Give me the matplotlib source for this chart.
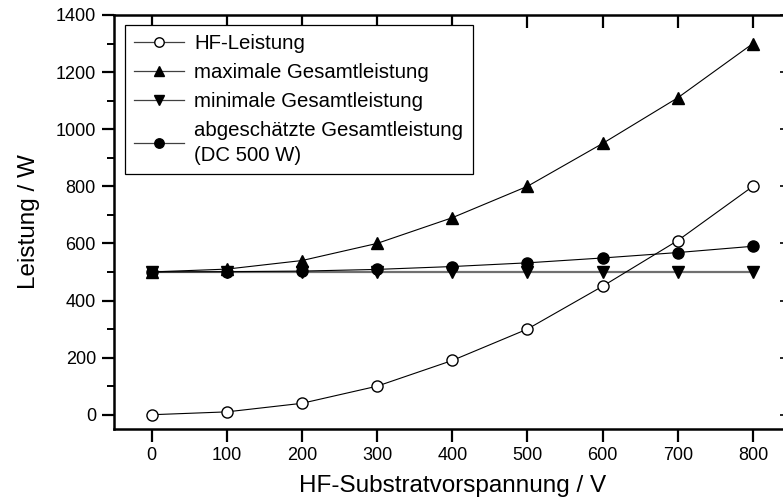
import matplotlib
matplotlib.use("Agg")
import matplotlib.pyplot as plt
from matplotlib.ticker import MultipleLocator

plt.rcParams['font.family'] = ['Liberation Sans', 'DejaVu Sans']

# data
spannung = [0, 100, 200, 300, 400, 500, 600, 700, 800]
hf_leistung = [0, 10, 40, 100, 190, 300, 450, 610, 800]
max_gesamt = [500, 510, 540, 600, 690, 800, 950, 1110, 1300]
min_gesamt = [500, 500, 500, 500, 500, 500, 500, 500, 500]
est_gesamt = [500, 501, 503, 509, 519, 532, 549, 568, 590]

fig = plt.figure(figsize=(7.83, 5.03), dpi=100)
ax = fig.add_axes([0.1456, 0.1471, 0.864, 0.8231])

ax.plot(spannung, min_gesamt, color='#707070', lw=1.6, marker='v', ms=9,
        mfc='black', mec='black', label='minimale Gesamtleistung')
ax.plot(spannung, max_gesamt, color='black', lw=0.8, marker='^', ms=9,
        mfc='black', mec='black', label='maximale Gesamtleistung')
ax.plot(spannung, est_gesamt, color='black', lw=0.8, marker='o', ms=8,
        mfc='black', mec='black', label='abgeschätzte Gesamtleistung\n(DC 500 W)')
ax.plot(spannung, hf_leistung, color='black', lw=0.8, marker='o', ms=8,
        mfc='white', mec='black', mew=1.0, label='HF-Leistung')

ax.set_xlim(-50, 850)
ax.set_ylim(-50, 1400)
ax.xaxis.set_major_locator(MultipleLocator(100))
ax.yaxis.set_major_locator(MultipleLocator(200))
ax.yaxis.set_minor_locator(MultipleLocator(100))

for s in ax.spines.values():
    s.set_linewidth(1.8)

ax.tick_params(axis='both', which='major', direction='out', length=9, width=1.6,
               labelsize=13, pad=4)
ax.tick_params(axis='y', which='minor', direction='out', length=5, width=1.4)

# top: inward ticks, no labels
secx = ax.secondary_xaxis('top')
secx.xaxis.set_major_locator(MultipleLocator(100))
secx.tick_params(direction='in', length=9, width=1.6)
secx.set_xticklabels([])
secx.spines['top'].set_visible(False)

# right: inward ticks, no labels
secy = ax.secondary_yaxis('right')
secy.yaxis.set_major_locator(MultipleLocator(200))
secy.tick_params(direction='in', length=8, width=1.2)
secy.set_yticklabels([])
secy.spines['right'].set_visible(False)

ax.set_xlabel('HF-Substratvorspannung / V', fontsize=17.5, labelpad=8)
ax.set_ylabel('Leistung / W', fontsize=17.5, labelpad=11)

h, l = ax.get_legend_handles_labels()
order = [3, 1, 0, 2]
leg = ax.legend([h[i] for i in order], [l[i] for i in order], loc='upper left',
                bbox_to_anchor=(0.0163, 0.976), borderaxespad=0,
                fontsize=14.7, handlelength=2.45, handletextpad=0.5,
                labelspacing=0.48, borderpad=0.45,
                fancybox=False, framealpha=1, edgecolor='black', markerscale=0.85)
leg.get_frame().set_linewidth(0.9)
leg.get_texts()[3].set_linespacing(1.4)
for line in leg.get_lines():
    line.set_color('#404040')
    line.set_linewidth(0.9)

fig.savefig('out.png', dpi=100)
